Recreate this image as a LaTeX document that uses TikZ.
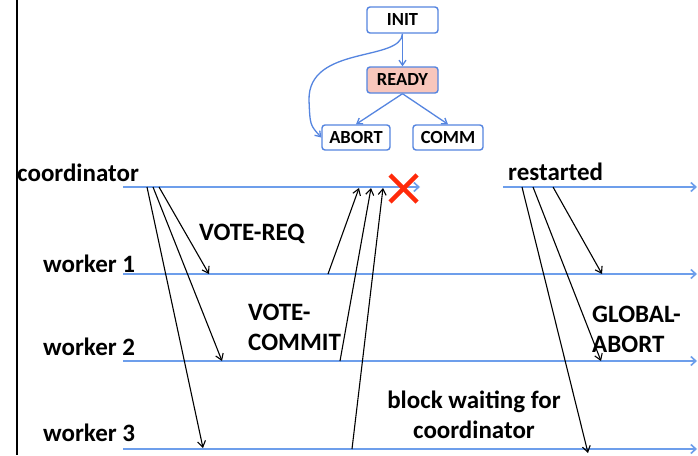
\documentclass[tikz,border=0pt]{standalone}
\usepackage{fontspec}
\setmainfont{Carlito}
\usetikzlibrary{arrows.meta}
\definecolor{tl}{HTML}{6D9EEB}
\definecolor{bx}{HTML}{5585E0}
\definecolor{rd}{HTML}{F8C6BC}
\definecolor{xr}{HTML}{FF2A0A}
\begin{document}
\begin{tikzpicture}[x=1pt,y=-1pt,
  lbl/.style={font=\fontsize{25}{29.5}\selectfont\bfseries, inner sep=0pt, align=left},
  st/.style={draw=bx, line width=1.4pt, rounded corners=3pt, font=\fontsize{18.5}{20}\selectfont\bfseries, inner sep=0pt},
  sarr/.style={draw=bx, line width=1.3pt, -{Straight Barb[length=5pt,width=7pt]}},
  tline/.style={draw=tl, line width=1.6pt, -{Straight Barb[length=5pt,width=9pt]}},
  msg/.style={draw=black, line width=1.1pt, -{Straight Barb[length=6pt,width=8pt]}}]
\useasboundingbox (0,0) rectangle (698,455);
\fill[white] (0,0) rectangle (698,455);
\draw[line width=2.5pt] (17,0) -- (17,455);

% state machine
\node[st, minimum width=71pt, minimum height=26pt] (init) at (402.5,20) {INIT};
\node[st, fill=rd, minimum width=71pt, minimum height=26pt] (ready) at (402.5,80) {READY};
\node[st, minimum width=68pt, minimum height=25pt] (abort) at (356,137.5) {ABORT};
\node[st, minimum width=70pt, minimum height=25pt] (comm) at (448,137.5) {COMM};
\draw[sarr] (init.south) -- (ready.north);
\draw[sarr] (ready.south) -- (abort.north);
\draw[sarr] (ready.south) -- (comm.north);
\draw[sarr] (init.south) .. controls (401,62) and (308,45) .. (309,100) .. controls (310,125) .. (abort.west);

% timelines
\coordinate (c0) at (123,187);
\coordinate (c1) at (420,187);
\coordinate (r0) at (503,187);
\coordinate (r1) at (697,187);
\coordinate (w1a) at (123,274);
\coordinate (w1b) at (697,274);
\coordinate (w2a) at (123,361);
\coordinate (w2b) at (697,361);
\coordinate (w3a) at (123,449);
\coordinate (w3b) at (697,449);
\draw[tline] (c0) -- (c1);
\draw[tline] (r0) -- (r1);
\draw[tline] (w1a) -- (w1b);
\draw[tline] (w2a) -- (w2b);
\draw[tline] (w3a) -- (w3b);

% labels
\node[lbl, anchor=base west] (lc) at (17,181) {coordinator};
\node[lbl, anchor=base west] (l1) at (43,272.5) {worker 1};
\node[lbl, anchor=base west] (l2) at (43,355) {worker 2};
\node[lbl, anchor=base west] (l3) at (43,441.5) {worker 3};
\node[lbl, anchor=base west] (lvr) at (199,240) {VOTE-REQ};
\node[lbl, anchor=base west] (lvc) at (248,350) {VOTE-\\COMMIT};
\node[lbl, anchor=base west] (lga) at (592,352) {GLOBAL-\\ABORT};
\node[lbl, anchor=base west] (lrs) at (508,180) {restarted};
\node[lbl, anchor=base, align=center] (lbw) at (474,438) {block waiting for\\coordinator};

% vote requests
\coordinate (v1s) at (159,187); \coordinate (v1e) at (209,274);
\coordinate (v2s) at (153,187); \coordinate (v2e) at (222,361);
\coordinate (v3s) at (147,187); \coordinate (v3e) at (203,448);
\draw[msg] (v1s) -- (v1e);
\draw[msg] (v2s) -- (v2e);
\draw[msg] (v3s) -- (v3e);

% vote commits
\coordinate (a1s) at (328,274); \coordinate (a1e) at (359,188);
\coordinate (a2s) at (340,361); \coordinate (a2e) at (371,188);
\coordinate (a3s) at (352,449); \coordinate (a3e) at (383,188);
\draw[msg] (a1s) -- (a1e);
\draw[msg] (a2s) -- (a2e);
\draw[msg] (a3s) -- (a3e);

% global abort
\coordinate (g1s) at (553,187); \coordinate (g1e) at (602,274);
\coordinate (g2s) at (533,187); \coordinate (g2e) at (601,361);
\coordinate (g3s) at (522,187); \coordinate (g3e) at (588,453);
\draw[msg] (g1s) -- (g1e);
\draw[msg] (g2s) -- (g2e);
\draw[msg] (g3s) -- (g3e);

% crash
\coordinate (x1) at (390,175); \coordinate (x2) at (417,202);
\coordinate (x3) at (390,202); \coordinate (x4) at (417,175);
\draw[xr, line width=4.5pt] (x1) -- (x2);
\draw[xr, line width=4.5pt] (x3) -- (x4);
\end{tikzpicture}
\end{document}
